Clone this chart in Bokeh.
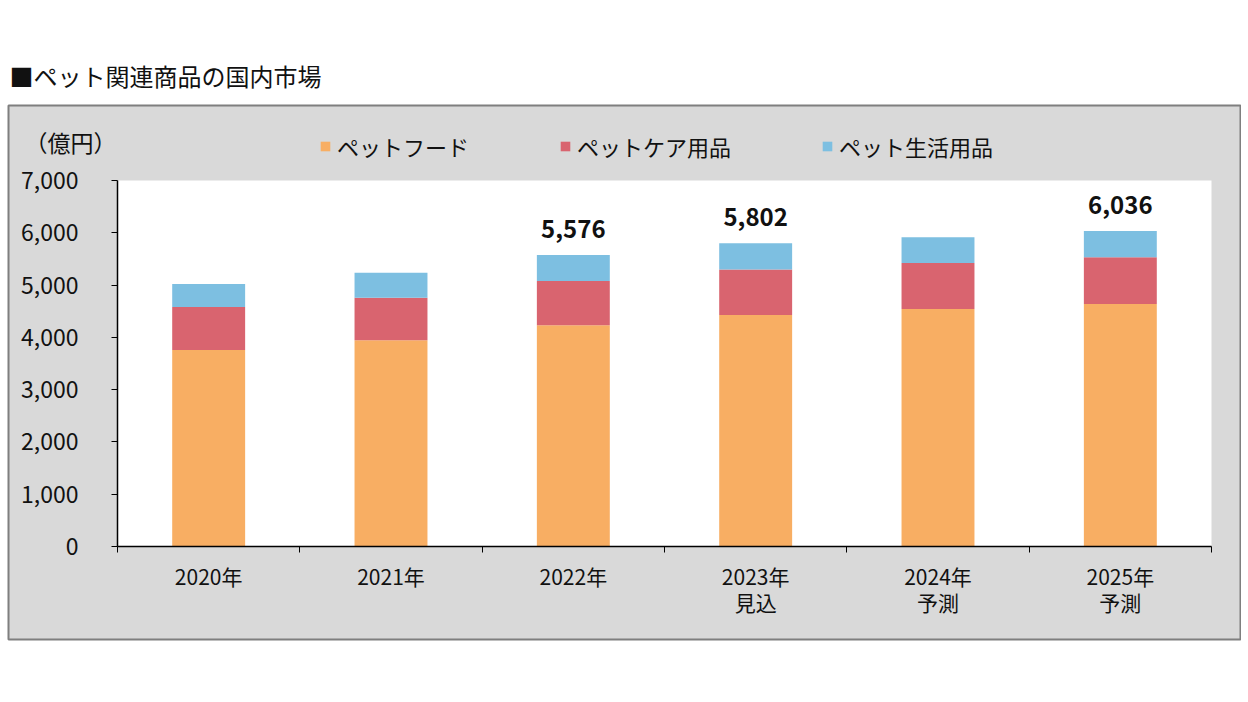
import numpy as np
from bokeh.plotting import figure
from bokeh.models import (ColumnDataSource, Range1d, FixedTicker, Label, BoxAnnotation,
                          NumeralTickFormatter)
from bokeh.core.properties import value
from bokeh.embed import file_html
from bokeh.resources import INLINE

# ---- data ----
title_text = "■ペット関連商品の国内市場"
unit_text = "（億円）"
categories = ["2020年", "2021年", "2022年", "2023年\n見込", "2024年\n予測", "2025年\n予測"]
series_names = ["ペットフード", "ペットケア用品", "ペット生活用品"]
pet_food = [3760, 3945, 4231, 4427, 4542, 4640]
pet_care = [820, 813, 845, 873, 878, 890]
pet_living = [440, 477, 500, 502, 496, 506]
show_total = [False, False, True, True, False, True]
y_ticks = [0, 1000, 2000, 3000, 4000, 5000, 6000, 7000]
y_max = 7000

colors = ["#F8AE63", "#D9646F", "#7DBFE1"]
FONT = "Noto Sans CJK JP"

n = len(categories)
xs = [i + 0.5 for i in range(n)]
src = ColumnDataSource(dict(x=xs, food=pet_food, care=pet_care, living=pet_living))

totals = [a + b + c for a, b, c in zip(pet_food, pet_care, pet_living)]
lab_x = [x for x, s in zip(xs, show_total) if s]
lab_y = [t for t, s in zip(totals, show_total) if s]
lab_t = [f"{t:,}" for t, s in zip(totals, show_total) if s]
lab_src = ColumnDataSource(dict(x=lab_x, y=lab_y, t=lab_t))

# layout geometry (pixels): the frame is the grey panel, the white box is the plot area
FRAME_L, FRAME_R, FRAME_T, FRAME_B = 8, 1240, 105, 639
AREA_L, AREA_R, AREA_T, AREA_B = 117, 1211, 180, 546
px_x = (AREA_R - AREA_L) / n
px_y = (AREA_B - AREA_T) / y_max
x_range = Range1d(-(AREA_L - FRAME_L) / px_x, n + (FRAME_R - AREA_R) / px_x)
y_range = Range1d(-(FRAME_B - AREA_B) / px_y, y_max + (AREA_T - FRAME_T) / px_y)

p = figure(width=FRAME_R + 1, height=FRAME_B + 10, output_backend="svg", toolbar_location=None,
           x_range=x_range, y_range=y_range,
           min_border_left=FRAME_L, min_border_right=1, min_border_top=FRAME_T,
           min_border_bottom=10)
p.border_fill_color = "#FFFFFF"
p.background_fill_color = "#D9D9D9"
p.outline_line_color = "#7F7F7F"
p.outline_line_width = 2
p.xgrid.visible = False
p.ygrid.visible = False

p.title.text = title_text
p.title.text_font = FONT
p.title.text_font_size = "24px"
p.title.text_font_style = "normal"
p.title.text_color = "#111111"
p.title.align = "left"
p.title.offset = 1
p.title.standoff = 26

p.add_layout(BoxAnnotation(left=0, right=n, bottom=0, top=y_max, fill_color="#FFFFFF",
                           fill_alpha=1, line_color=None, level="underlay"))

p.vbar_stack(["food", "care", "living"], x="x", width=0.4, color=colors,
             line_color=None, source=src, legend_label=series_names)

p.text(x="x", y="y", text="t", source=lab_src, text_align="center", text_baseline="bottom",
       y_offset=-17, text_font=value(FONT), text_font_style="bold", text_font_size="24px",
       text_color="#111111")

# axes
yax = p.yaxis[0]
yax.fixed_location = 0
yax.bounds = (0, y_max)
yax.ticker = FixedTicker(ticks=y_ticks, minor_ticks=[])
yax.formatter = NumeralTickFormatter(format="0,0")
yax.major_label_text_font = FONT
yax.major_label_text_font_size = "23px"
yax.major_label_text_color = "#111111"
yax.axis_line_color = "#000000"
yax.axis_line_width = 1.5
yax.major_tick_line_color = "#000000"
yax.major_tick_out = 6
yax.major_tick_in = 0
yax.minor_tick_line_color = None
yax.major_label_standoff = 33

xax = p.xaxis[0]
xax.fixed_location = 0
xax.bounds = (0, n)
xax.ticker = FixedTicker(ticks=xs, minor_ticks=list(range(n + 1)))
xax.major_label_overrides = {x: c for x, c in zip(xs, categories)}
xax.major_label_text_font = FONT
xax.major_label_text_font_size = "21px"
xax.major_label_text_color = "#111111"
xax.major_label_text_line_height = 0.87
xax.axis_line_color = "#000000"
xax.axis_line_width = 1.5
xax.major_tick_line_color = None
xax.minor_tick_line_color = "#000000"
xax.minor_tick_out = 6
xax.minor_tick_in = 0
xax.major_label_standoff = 8

p.add_layout(Label(x=(24 - AREA_L) / px_x, y=(AREA_B - 141) / px_y, text=unit_text,
                   text_font=FONT, text_font_size="23px", text_color="#111111",
                   text_baseline="middle"))

# legend
lg = p.legend[0]
lg.orientation = "horizontal"
lg.location = (311, FRAME_B - 162)
lg.background_fill_alpha = 0
lg.border_line_color = None
lg.label_text_font = FONT
lg.label_text_font_size = "22px"
lg.label_text_color = "#111111"
lg.glyph_width = 12
lg.glyph_height = 12
lg.label_standoff = 6
lg.spacing = 90
lg.padding = 0
lg.margin = 0

open("out.html", "w").write(file_html(p, INLINE))
